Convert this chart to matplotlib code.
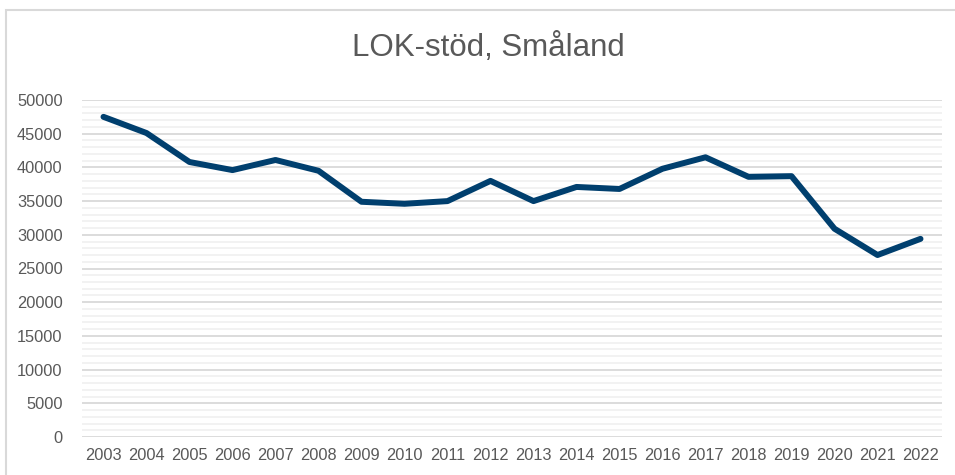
import matplotlib
matplotlib.use("Agg")
import matplotlib.pyplot as plt
from matplotlib.patches import Rectangle
from matplotlib.ticker import MultipleLocator

plt.rcParams["font.family"] = ["Liberation Sans", "DejaVu Sans"]

# Data
years = [str(y) for y in range(2003, 2023)]
lok_stod = [47500, 45100, 40800, 39600, 41100, 39500, 34900, 34600, 35000, 38000,
            35000, 37100, 36800, 39800, 41500, 38600, 38700, 30900, 27000, 29400]

TEXT_COLOR = "#595959"
LINE_COLOR = "#003F6E"

fig = plt.figure(figsize=(9.55, 4.75), dpi=100)

# Light chart-area border (left and top visible)
fig.patches.append(Rectangle((6 / 955, -0.01), 1.2, 1 - 10 / 475 + 0.01,
                             transform=fig.transFigure, fill=False,
                             edgecolor="#d9d9d9", linewidth=1.5))

ax = fig.add_axes([82 / 955, 1 - 437 / 475, 860 / 955, 337 / 475])

x = range(len(years))
ax.plot(x, lok_stod, color=LINE_COLOR, linewidth=4.3,
        solid_joinstyle="round", solid_capstyle="round", zorder=3)

ax.set_xlim(-0.5, len(years) - 0.5)
ax.set_ylim(0, 50000)
ax.set_xticks(list(x))
ax.set_xticklabels(years)
ax.yaxis.set_major_locator(MultipleLocator(5000))
ax.yaxis.set_minor_locator(MultipleLocator(1000))

ax.grid(which="major", axis="y", color="#d9d9d9", linewidth=1.3)
ax.grid(which="minor", axis="y", color="#efefef", linewidth=1.1)
ax.set_axisbelow(True)

for side in ["top", "right", "left", "bottom"]:
    ax.spines[side].set_visible(False)

ax.tick_params(axis="both", which="both", length=0, labelsize=11.8,
               labelcolor=TEXT_COLOR)
ax.tick_params(axis="y", pad=14)
ax.tick_params(axis="x", pad=8)

fig.text(0.511, 1 - 48 / 475, "LOK-stöd, Småland", ha="center", va="center",
         fontsize=22.5, color=TEXT_COLOR)

fig.savefig("out.png", dpi=100)
